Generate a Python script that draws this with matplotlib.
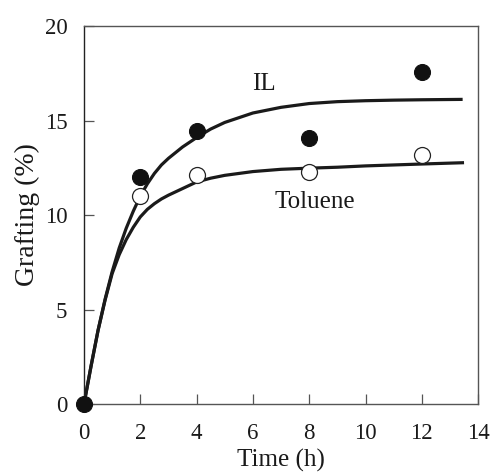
import matplotlib
matplotlib.use("Agg")
import matplotlib.pyplot as plt

# Measured data points
time_h = [0, 2, 4, 8, 12]
grafting_il = [0, 12.0, 14.45, 14.1, 17.55]
grafting_toluene = [0, 11.0, 12.1, 12.3, 13.2]

# Fitted curves
curve_t_il = [0, 0.25, 0.5, 0.75, 1, 1.25, 1.5, 1.75, 2, 2.25, 2.5, 2.75, 3, 3.5, 4, 4.5,
              5, 5.5, 6, 7, 8, 9, 10, 11, 12, 13.45]
curve_il = [0, 2.0, 3.9, 5.55, 7.0, 8.25, 9.3, 10.2, 11.0, 11.65, 12.2, 12.65, 13.0, 13.6,
            14.1, 14.55, 14.9, 15.15, 15.4, 15.7, 15.9, 16.0, 16.05, 16.08, 16.1, 16.12]
curve_t_tol = [0, 0.25, 0.5, 0.75, 1, 1.25, 1.5, 1.75, 2, 2.25, 2.5, 2.75, 3, 3.5, 4, 4.5,
               5, 5.5, 6, 7, 8, 9, 10, 11, 12, 13.5]
curve_tol = [0, 2.0, 3.9, 5.5, 6.9, 7.9, 8.7, 9.35, 9.9, 10.3, 10.6, 10.85, 11.05, 11.4,
             11.75, 11.95, 12.1, 12.2, 12.3, 12.42, 12.48, 12.53, 12.6, 12.65, 12.7, 12.77]

x_ticks = [0, 2, 4, 6, 8, 10, 12, 14]
y_ticks = [0, 5, 10, 15, 20]

plt.rcParams['font.family'] = ['Liberation Serif', 'DejaVu Serif']

fig = plt.figure(figsize=(4.97, 4.74), dpi=100)
ax = fig.add_axes([0.169, 0.1477, 0.793, 0.7973])

ax.plot(curve_t_il, curve_il, color='#1a1a1a', lw=2.3, solid_capstyle='butt',
        solid_joinstyle='round', zorder=2)
ax.plot(curve_t_tol, curve_tol, color='#1a1a1a', lw=2.3, solid_capstyle='butt',
        solid_joinstyle='round', zorder=2)

ax.plot(time_h, grafting_il, 'o', ms=11.5, mfc='#111111', mec='#111111', mew=0.8,
        zorder=4, clip_on=False)
ax.plot(time_h[1:], grafting_toluene[1:], 'o', ms=11.5, mfc='white', mec='#222222',
        mew=0.9, zorder=3, clip_on=False)

ax.text(6.38, 16.93, 'IL', fontsize=18, ha='center', va='center', color='#1a1a1a')
ax.text(8.21, 10.71, 'Toluene', fontsize=18, ha='center', va='center', color='#1a1a1a')

ax.set_xlim(0, 14)
ax.set_ylim(0, 20)
ax.set_xticks(x_ticks)
ax.set_yticks(y_ticks)
ax.tick_params(direction='in', length=7, width=0.9, color='#555555',
               labelsize=16.5, pad=12, labelcolor='#1a1a1a')
ax.tick_params(axis='x', pad=14)
for s in ax.spines.values():
    s.set_color('#555555')
    s.set_linewidth(1.0)
ax.spines['left'].set_color('#222222')

ax.set_xlabel('Time (h)', fontsize=18, labelpad=3, color='#1a1a1a')
ax.set_ylabel('Grafting (%)', fontsize=20, labelpad=3, color='#1a1a1a')

fig.savefig('out.png', dpi=100)
